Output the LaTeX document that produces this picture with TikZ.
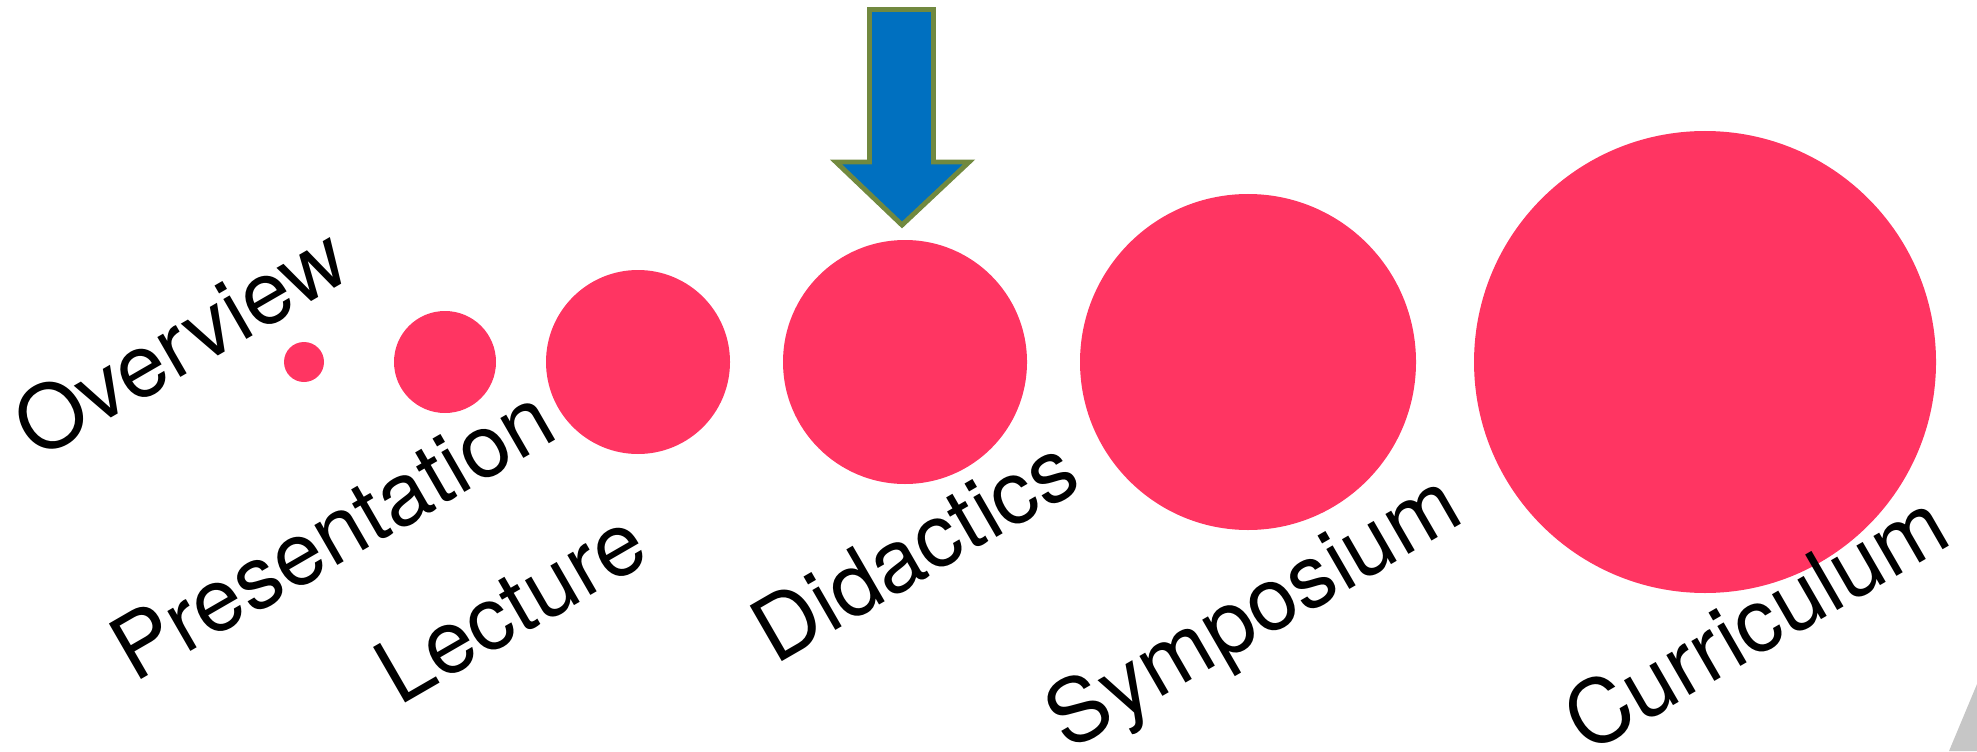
\documentclass[tikz,border=0pt]{standalone}
\usepackage{fontspec}
\setmainfont{TeX Gyre Heros}
\usepackage{tikz}
\definecolor{dotpink}{HTML}{FF3562}
\definecolor{arrowblue}{HTML}{0070C0}
\definecolor{arrowolive}{HTML}{71893F}

\begin{document}
\begin{tikzpicture}[x=0.01cm, y=0.01cm]
\useasboundingbox (0,0) rectangle (1977,751);
\foreach \cx/\r/\nm in {304/20/overview, 445/51/presentation, 638/92/lecture, 905/122/didactics, 1248/168/symposium, 1705/231/curriculum}
  {\node[circle, fill=dotpink, inner sep=0, minimum size=2*\r*0.01cm] (\nm) at (\cx,389) {};}
\foreach \tx/\ty/\word in {180/410/Overview, 332/218/Presentation, 510/145/Lecture, 914/202/Didactics, 1256/135/Symposium, 1755/130/Curriculum}
  {\node[rotate=30, font=\fontsize{25}{30}\selectfont, inner sep=0] (lbl-\word) at (\tx,\ty) {\word};}
\draw[line width=1.4pt, arrowolive, fill=arrowblue, line join=miter] (869.5,741.5) -- (933.5,741.5) -- (933.5,589) -- (969,589) -- (902,526) -- (836,589) -- (869.5,589) -- cycle;
\fill[gray!45] (1949,0) -- (1977,67) -- (1977,0) -- cycle;
\end{tikzpicture}
\end{document}
